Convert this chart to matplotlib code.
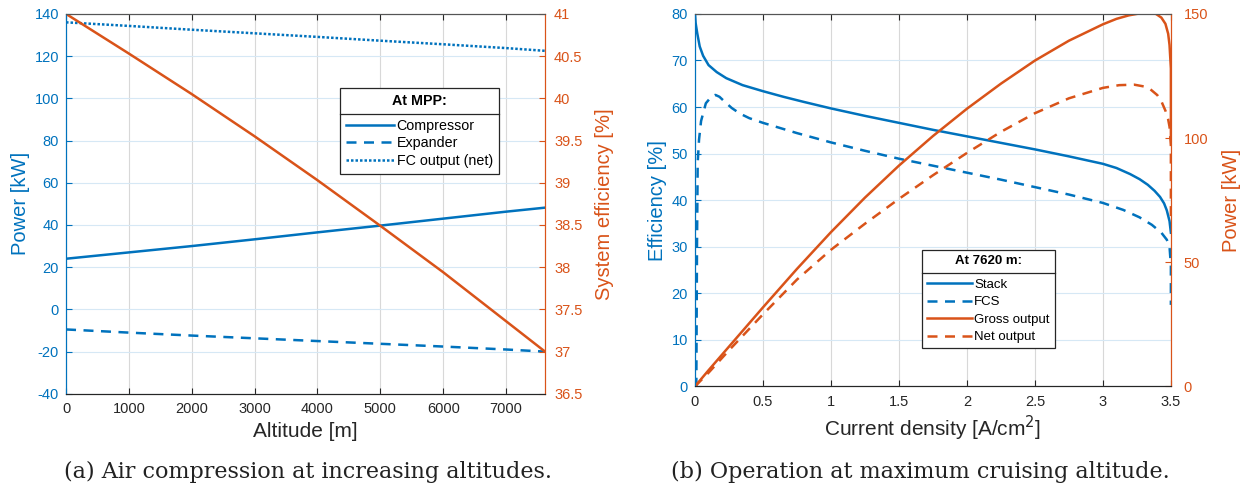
import matplotlib
matplotlib.use("Agg")
import matplotlib.pyplot as plt
from matplotlib.lines import Line2D

plt.rcParams["font.family"] = ["Liberation Sans", "DejaVu Sans"]
plt.rcParams["axes.unicode_minus"] = False

BLUE = "#0072BD"
ORANGE = "#D95319"
DARK = "#262626"

# (a) air compression vs altitude
altitude = [0, 1000, 2000, 3000, 4000, 5000, 6000, 7000, 7620]
compressor = [24, 27, 30, 33.2, 36.5, 39.7, 43, 46.3, 48.2]
expander = [-9.5, -11, -12.4, -13.7, -15, -16.3, -17.6, -19, -20]
fc_net = [136, 134.3, 132.5, 130.8, 129.1, 127.3, 125.6, 123.8, 122.5]
sys_eff = [41, 40.53, 40.05, 39.55, 39.03, 38.49, 37.94, 37.36, 37.0]

# (b) operation at 7620 m
j_stack = [0, 0.005, 0.017, 0.035, 0.06, 0.1, 0.16, 0.23, 0.35, 0.5, 0.65, 0.8,
           1.0, 1.25, 1.5, 1.75, 2.0, 2.25, 2.5, 2.75, 3.0, 3.1, 3.2, 3.27, 3.33,
           3.38, 3.42, 3.45, 3.47, 3.49, 3.5]
stack_eff = [80, 78, 75.8, 73, 71, 69, 67.5, 66.2, 64.7, 63.4, 62.2, 61.1,
             59.7, 58.1, 56.6, 55.1, 53.7, 52.3, 50.9, 49.4, 47.8, 46.9, 45.6, 44.5, 43.3,
             42, 40.7, 39.3, 37.8, 35.5, 33]

j_fcs = [0, 0.01, 0.015, 0.02, 0.03, 0.045, 0.08, 0.12, 0.15, 0.18, 0.22, 0.27,
         0.33, 0.4, 0.5, 0.75, 1.0, 1.25, 1.5, 1.75, 2.0, 2.25, 2.5, 2.75, 3.0,
         3.15, 3.27, 3.36, 3.43, 3.47, 3.49, 3.5, 3.5]
fcs_eff = [0, 0, 30, 48, 53, 57, 60.8, 62.2, 62.6, 62.2, 61.1, 59.8,
           58.6, 57.6, 56.6, 54.4, 52.4, 50.6, 48.9, 47.4, 45.9, 44.4, 42.8, 41.2, 39.4,
           37.9, 36.3, 34.7, 33, 31.5, 30, 26, 17.5]

j_gross = [0, 0.1, 0.25, 0.5, 0.75, 1.0, 1.25, 1.5, 1.75, 2.0, 2.25, 2.5, 2.75,
           3.0, 3.1, 3.19, 3.27, 3.34, 3.39, 3.43, 3.46, 3.48, 3.49, 3.5, 3.5]
gross = [0, 6.5, 16, 31.8, 47.3, 62.1, 76, 88.9, 100.8, 111.8, 121.9, 131.2, 139.2,
         145.8, 148, 149.4, 150.2, 150.4, 150, 148.5, 146, 142, 137.5, 128, 100]

j_net = [0, 0.1, 0.25, 0.5, 0.75, 1.0, 1.25, 1.5, 1.75, 2.0, 2.25, 2.5, 2.75,
         3.0, 3.12, 3.23, 3.3, 3.35, 3.4, 3.43, 3.46, 3.48, 3.49, 3.5, 3.5]
net = [0, 5.5, 14.5, 29, 43, 55, 65.5, 75.5, 85, 94, 102.5, 110, 116,
       120.2, 121.3, 121.5, 120.8, 119.6, 117.3, 114.8, 111, 107.5, 104.6, 97, 66]


def style_axes(ax, ax2, rpad):
    ax.grid(True, axis="x", color="#d8d8d8", lw=0.8)
    ax.grid(True, axis="y", color="#d6e8f5", lw=0.8)
    ax.tick_params(axis="y", colors=BLUE, direction="in", labelsize=10.5,
                   length=4, pad=5)
    ax.tick_params(axis="x", colors=DARK, direction="in", labelsize=10.5,
                   length=4, pad=6, top=True)
    ax2.tick_params(axis="y", colors=ORANGE, direction="in", labelsize=10.5,
                    length=4, pad=rpad)
    for a in (ax, ax2):
        a.spines["left"].set_color(BLUE)
        a.spines["right"].set_color(ORANGE)
        a.spines["top"].set_color("#555555")
        a.spines["bottom"].set_color(DARK)
    ax.set_axisbelow(True)


def legend_box(ax, handles, labels, title, anchor, size, spacing):
    leg = ax.legend(handles, labels, title=title, loc="upper left",
                    bbox_to_anchor=anchor, fancybox=False, framealpha=1,
                    edgecolor=DARK, fontsize=size, handlelength=3.4,
                    handletextpad=0.15, borderpad=0.4, labelspacing=spacing,
                    borderaxespad=0,
                    title_fontproperties={"weight": "bold", "size": size})
    leg.get_frame().set_linewidth(0.9)
    leg.set_zorder(10)
    leg._legend_box.sep = 8  # room for the line under the title
    return leg


fig = plt.figure(figsize=(12.41, 4.96), dpi=100)
ax_a = fig.add_axes([0.0532, 0.206, 0.386, 0.766])
ax_a2 = ax_a.twinx()

ax_a.plot(altitude, compressor, color=BLUE, lw=1.8, label="Compressor")
ax_a.plot(altitude, expander, color=BLUE, lw=1.8, ls=(0, (4, 3)), label="Expander")
ax_a.plot(altitude, fc_net, color=BLUE, lw=1.8, ls=(0, (1, 0.8)), label="FC output (net)")
ax_a2.plot(altitude, sys_eff, color=ORANGE, lw=1.8)

ax_a.set_xlim(0, 7620)
ax_a.set_ylim(-40, 140)
ax_a.set_yticks(range(-40, 141, 20))
ax_a.set_xticks(range(0, 7001, 1000))
ax_a2.set_ylim(36.5, 41)
ax_a2.set_yticks([36.5, 37, 37.5, 38, 38.5, 39, 39.5, 40, 40.5, 41])
ax_a2.set_yticklabels(["36.5", "37", "37.5", "38", "38.5", "39", "39.5", "40", "40.5", "41"])
ax_a.set_xlabel("Altitude [m]", fontsize=15, color=DARK, labelpad=4)
ax_a.set_ylabel("Power [kW]", fontsize=14.5, color=BLUE, labelpad=3)
ax_a2.set_ylabel("System efficiency [%]", fontsize=14.5, color=ORANGE, labelpad=9)
style_axes(ax_a, ax_a2, 6.5)
h, l = ax_a.get_legend_handles_labels()
leg_a = legend_box(ax_a2, h, l, "At MPP:", (0.572, 0.805), 10.3, 0.25)

ax_b = fig.add_axes([0.56, 0.221, 0.3835, 0.751])
ax_b2 = ax_b.twinx()
l1, = ax_b.plot(j_stack, stack_eff, color=BLUE, lw=1.8, label="Stack")
l2, = ax_b.plot(j_fcs, fcs_eff, color=BLUE, lw=1.8, ls=(0, (4, 3)), label="FCS")
l3, = ax_b2.plot(j_gross, gross, color=ORANGE, lw=1.8, label="Gross output")
l4, = ax_b2.plot(j_net, net, color=ORANGE, lw=1.8, ls=(0, (4, 3)), label="Net output")

ax_b.set_xlim(0, 3.5)
ax_b.set_ylim(0, 80)
ax_b.set_xticks([0, 0.5, 1, 1.5, 2, 2.5, 3, 3.5])
ax_b.set_xticklabels(["0", "0.5", "1", "1.5", "2", "2.5", "3", "3.5"])
ax_b2.set_ylim(0, 150)
ax_b2.set_yticks([0, 50, 100, 150])
ax_b.set_xlabel("Current density [A/cm$^2$]", fontsize=15, color=DARK, labelpad=4)
ax_b.set_ylabel("Efficiency [%]", fontsize=14.5, color=BLUE, labelpad=3)
ax_b2.set_ylabel("Power [kW]", fontsize=14.5, color=ORANGE, labelpad=10)
style_axes(ax_b, ax_b2, 9)
leg_b = legend_box(ax_b2, [l1, l2, l3, l4], [x.get_label() for x in (l1, l2, l3, l4)],
                   "At 7620 m:", (0.477, 0.366), 9.5, 0.4)

# separator under the legend titles
fig.canvas.draw()
r = fig.canvas.get_renderer()
for leg in (leg_a, leg_b):
    fb = leg.get_frame().get_window_extent(r)
    tb = leg.get_title().get_window_extent(r)
    y = (tb.y0 - 0.55 * r.points_to_pixels(8)) / fig.bbox.height
    fig.add_artist(Line2D([fb.x0 / fig.bbox.width, fb.x1 / fig.bbox.width], [y, y],
                          color=DARK, lw=0.9, zorder=20))

fig.text(0.248, 0.036, "(a) Air compression at increasing altitudes.",
         family="DejaVu Serif", fontsize=16, ha="center", color="#222222")
fig.text(0.742, 0.036, "(b) Operation at maximum cruising altitude.",
         family="DejaVu Serif", fontsize=16, ha="center", color="#222222")

fig.savefig("out.png", dpi=100)
